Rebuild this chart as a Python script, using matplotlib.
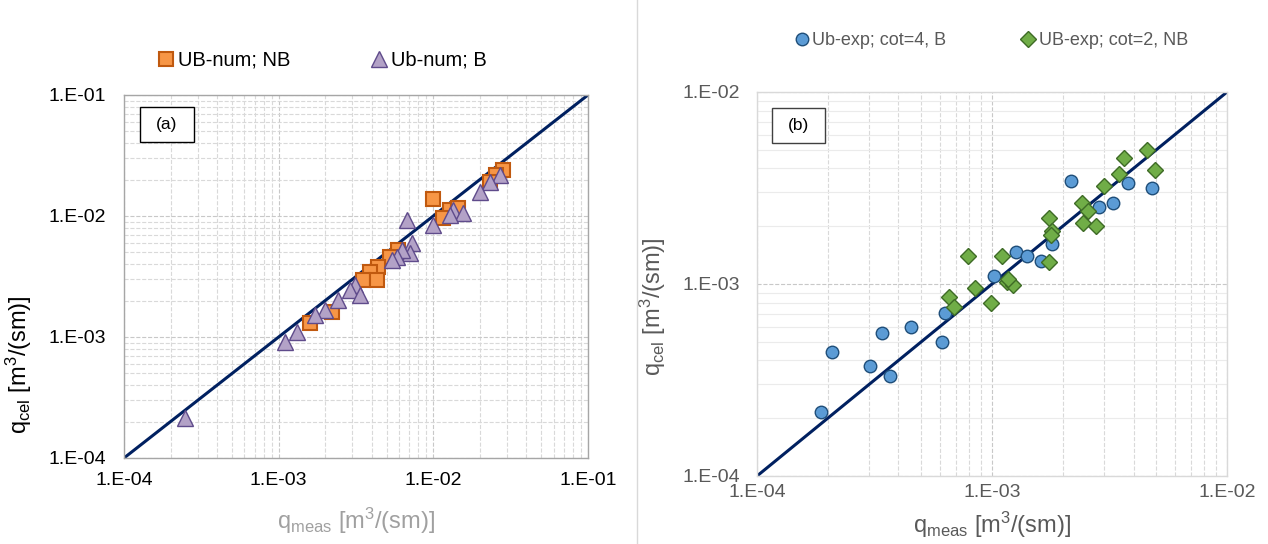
"""
q_cel vs q_meas の比較（数値計算・実験）
"""
import numpy as np
import matplotlib.pyplot as plt
from matplotlib.lines import Line2D
from matplotlib.patches import Rectangle
from matplotlib.ticker import LogLocator, FixedLocator

plt.rcParams['font.family'] = ['Liberation Sans', 'DejaVu Sans']
plt.rcParams['mathtext.fontset'] = 'custom'
plt.rcParams['mathtext.rm'] = 'Liberation Sans'
plt.rcParams['mathtext.it'] = 'Liberation Sans'

# --- (a) numerical ---
ub_num_nb_x = [0.0100, 0.0282, 0.0256, 0.0232, 0.0128, 0.0116, 0.0145, 0.00593,
               0.00525, 0.0044, 0.00389, 0.00352, 0.0043, 0.0022, 0.00159]
ub_num_nb_y = [0.0138, 0.0240, 0.0218, 0.0192, 0.0112, 0.0096, 0.0116, 0.00524,
               0.00461, 0.0038, 0.00347, 0.00296, 0.00296, 0.00162, 0.0013]

ub_num_b_x = [0.0269, 0.0232, 0.0200, 0.0135, 0.0156, 0.0128, 0.0100, 0.00672,
              0.00724, 0.00706, 0.00624, 0.00579, 0.00538, 0.00311, 0.00289,
              0.00336, 0.00243, 0.0020, 0.00172, 0.00131, 0.0011, 0.000248]
ub_num_b_y = [0.0219, 0.0192, 0.0159, 0.0112, 0.01066, 0.0102, 0.00843, 0.00927,
              0.00594, 0.00491, 0.00524, 0.00461, 0.00433, 0.00269, 0.00245,
              0.00222, 0.00202, 0.00167, 0.00152, 0.00111, 0.00091, 0.000213]

# --- (b) experimental ---
ub_exp_b_x = [0.000188, 0.000209, 0.000303, 0.000368, 0.00034, 0.000451, 0.000611,
              0.000631, 0.001015, 0.00126, 0.001406, 0.00162, 0.001795, 0.00216,
              0.00285, 0.00328, 0.0038, 0.00478]
ub_exp_b_y = [0.000216, 0.000443, 0.000374, 0.000333, 0.000553, 0.0006, 0.000501,
              0.00071, 0.0011, 0.00147, 0.0014, 0.00132, 0.00162, 0.00343,
              0.00253, 0.00265, 0.00334, 0.00318]

ub_exp_nb_x = [0.000659, 0.00069, 0.000847, 0.000987, 0.001155, 0.00123, 0.000792,
               0.001106, 0.001174, 0.001755, 0.001795, 0.00178, 0.001755, 0.00241,
               0.00257, 0.00245, 0.00277, 0.00301, 0.00348, 0.00365, 0.00455, 0.00494]
ub_exp_nb_y = [0.000859, 0.000757, 0.00095, 0.0008, 0.001027, 0.00099, 0.0014,
               0.0014, 0.00106, 0.002215, 0.00189, 0.0018, 0.0013, 0.00263,
               0.00241, 0.00207, 0.00201, 0.00324, 0.00374, 0.00452, 0.00499, 0.00393]

NAVY = '#002060'
QMEAS = r'q$_{\mathregular{meas}}$ [m$^{\mathregular{3}}$/(sm)]'
QCEL = r'q$_{\mathregular{cel}}$ [m$^{\mathregular{3}}$/(sm)]'


def setup_log_axes(ax, lo, hi, tick_color, frame_color, hgrid_minor_style, xpad, ypad):
    ax.set_xscale('log')
    ax.set_yscale('log')
    ax.set_xlim(lo, hi)
    ax.set_ylim(lo, hi)
    exps = list(range(int(np.log10(lo)), int(np.log10(hi)) + 1))
    decades = [10.0 ** k for k in exps]
    ax.xaxis.set_major_locator(FixedLocator(decades))
    ax.yaxis.set_major_locator(FixedLocator(decades))
    ax.xaxis.set_minor_locator(LogLocator(base=10, subs=np.arange(2, 10)))
    ax.yaxis.set_minor_locator(LogLocator(base=10, subs=np.arange(2, 10)))
    labels = ['1.E%+03d' % k for k in exps]
    ax.set_xticklabels(labels, fontsize=14)
    ax.set_yticklabels(labels, fontsize=14)
    ax.tick_params(which='both', length=0, colors=tick_color)
    ax.tick_params(axis='x', pad=xpad)
    ax.tick_params(axis='y', pad=ypad)
    for s in ax.spines.values():
        s.set_color(frame_color)
        s.set_linewidth(1.0)
    ax.grid(True, which='major', axis='both', color='#C8C8C8', linestyle='--', linewidth=0.8)
    ax.grid(True, which='minor', axis='x', color='#D9D9D9', linestyle='--', linewidth=0.8)
    ax.grid(True, which='minor', axis='y', color='#D9D9D9' if hgrid_minor_style == '--' else '#EBEBEB',
            linestyle=hgrid_minor_style, linewidth=0.8)
    ax.set_axisbelow(True)


def label_box(ax, x0, x1, y0, y1, text, ec):
    ax.add_patch(Rectangle((x0, y0), x1 - x0, y1 - y0, transform=ax.transAxes,
                           fc='white', ec=ec, lw=1.0, zorder=5))
    ax.text((x0 + x1) / 2, (y0 + y1) / 2, text, transform=ax.transAxes, fontsize=12.5,
            ha='center', va='center', zorder=6)


fig = plt.figure(figsize=(12.68, 5.44), dpi=100)

# (a)
ax1 = fig.add_axes([0.0978, 0.1581, 0.3659, 0.6673])
setup_log_axes(ax1, 1e-4, 1e-1, 'black', '#A6A6A6', '--', xpad=10, ypad=13)
ax1.plot([1e-4, 1e-1], [1e-4, 1e-1], color=NAVY, linewidth=2.2, zorder=2)
ax1.plot(ub_num_nb_x, ub_num_nb_y, 's', ms=10, mfc='#F79646', mec='#C0590F', mew=1.5,
         linestyle='none', label='UB-num; NB', zorder=3)
ax1.plot(ub_num_b_x, ub_num_b_y, '^', ms=11, mfc='#B3A2C7', mec='#5F4B8B', mew=1.0,
         linestyle='none', label='Ub-num; B', zorder=4)
ax1.set_xlabel(QMEAS, fontsize=17, color='#A0A0A0', labelpad=12)
ax1.set_ylabel(QCEL, fontsize=17, color='black')
ax1.yaxis.set_label_coords(-0.194, 0.256)
label_box(ax1, 0.0345, 0.1509, 0.8705, 0.967, '(a)', 'black')
ax1.legend(loc='center', bbox_to_anchor=(0.428, 1.096), ncol=2, frameon=False,
           fontsize=14.5, handletextpad=0.2, columnspacing=4.0, handlelength=0.8)

# (b)
ax2 = fig.add_axes([0.597, 0.125, 0.3707, 0.7059])
setup_log_axes(ax2, 1e-4, 1e-2, '#595959', '#D9D9D9', '-', xpad=6, ypad=12)
ax2.plot([1e-4, 1e-2], [1e-4, 1e-2], color=NAVY, linewidth=2.2, zorder=2)
ax2.plot(ub_exp_b_x, ub_exp_b_y, 'o', ms=9, mfc='#5B9BD5', mec='#1F4E79', mew=1.0,
         linestyle='none', label='Ub-exp; cot=4, B', zorder=3)
ax2.plot(ub_exp_nb_x, ub_exp_nb_y, 'D', ms=8.5, mfc='#70AD47', mec='#3E6B26', mew=1.0,
         linestyle='none', label='UB-exp; cot=2, NB', zorder=4)
ax2.set_xlabel(QMEAS, fontsize=17, color='#595959', labelpad=6)
ax2.set_ylabel(QCEL, fontsize=17, color='#595959')
ax2.yaxis.set_label_coords(-0.189, 0.44)
label_box(ax2, 0.0313, 0.1447, 0.868, 0.959, '(b)', '#404040')
ax2.legend(loc='center', bbox_to_anchor=(0.496, 1.133), ncol=2, frameon=False,
           fontsize=13, handletextpad=0.1, columnspacing=4.0, handlelength=1.0,
           labelcolor='#595959')

# 区切り線
fig.add_artist(Line2D([0.5025, 0.5025], [0.0, 1.0], color='#D9D9D9', linewidth=1.0))

fig.savefig('out.png', dpi=100)
